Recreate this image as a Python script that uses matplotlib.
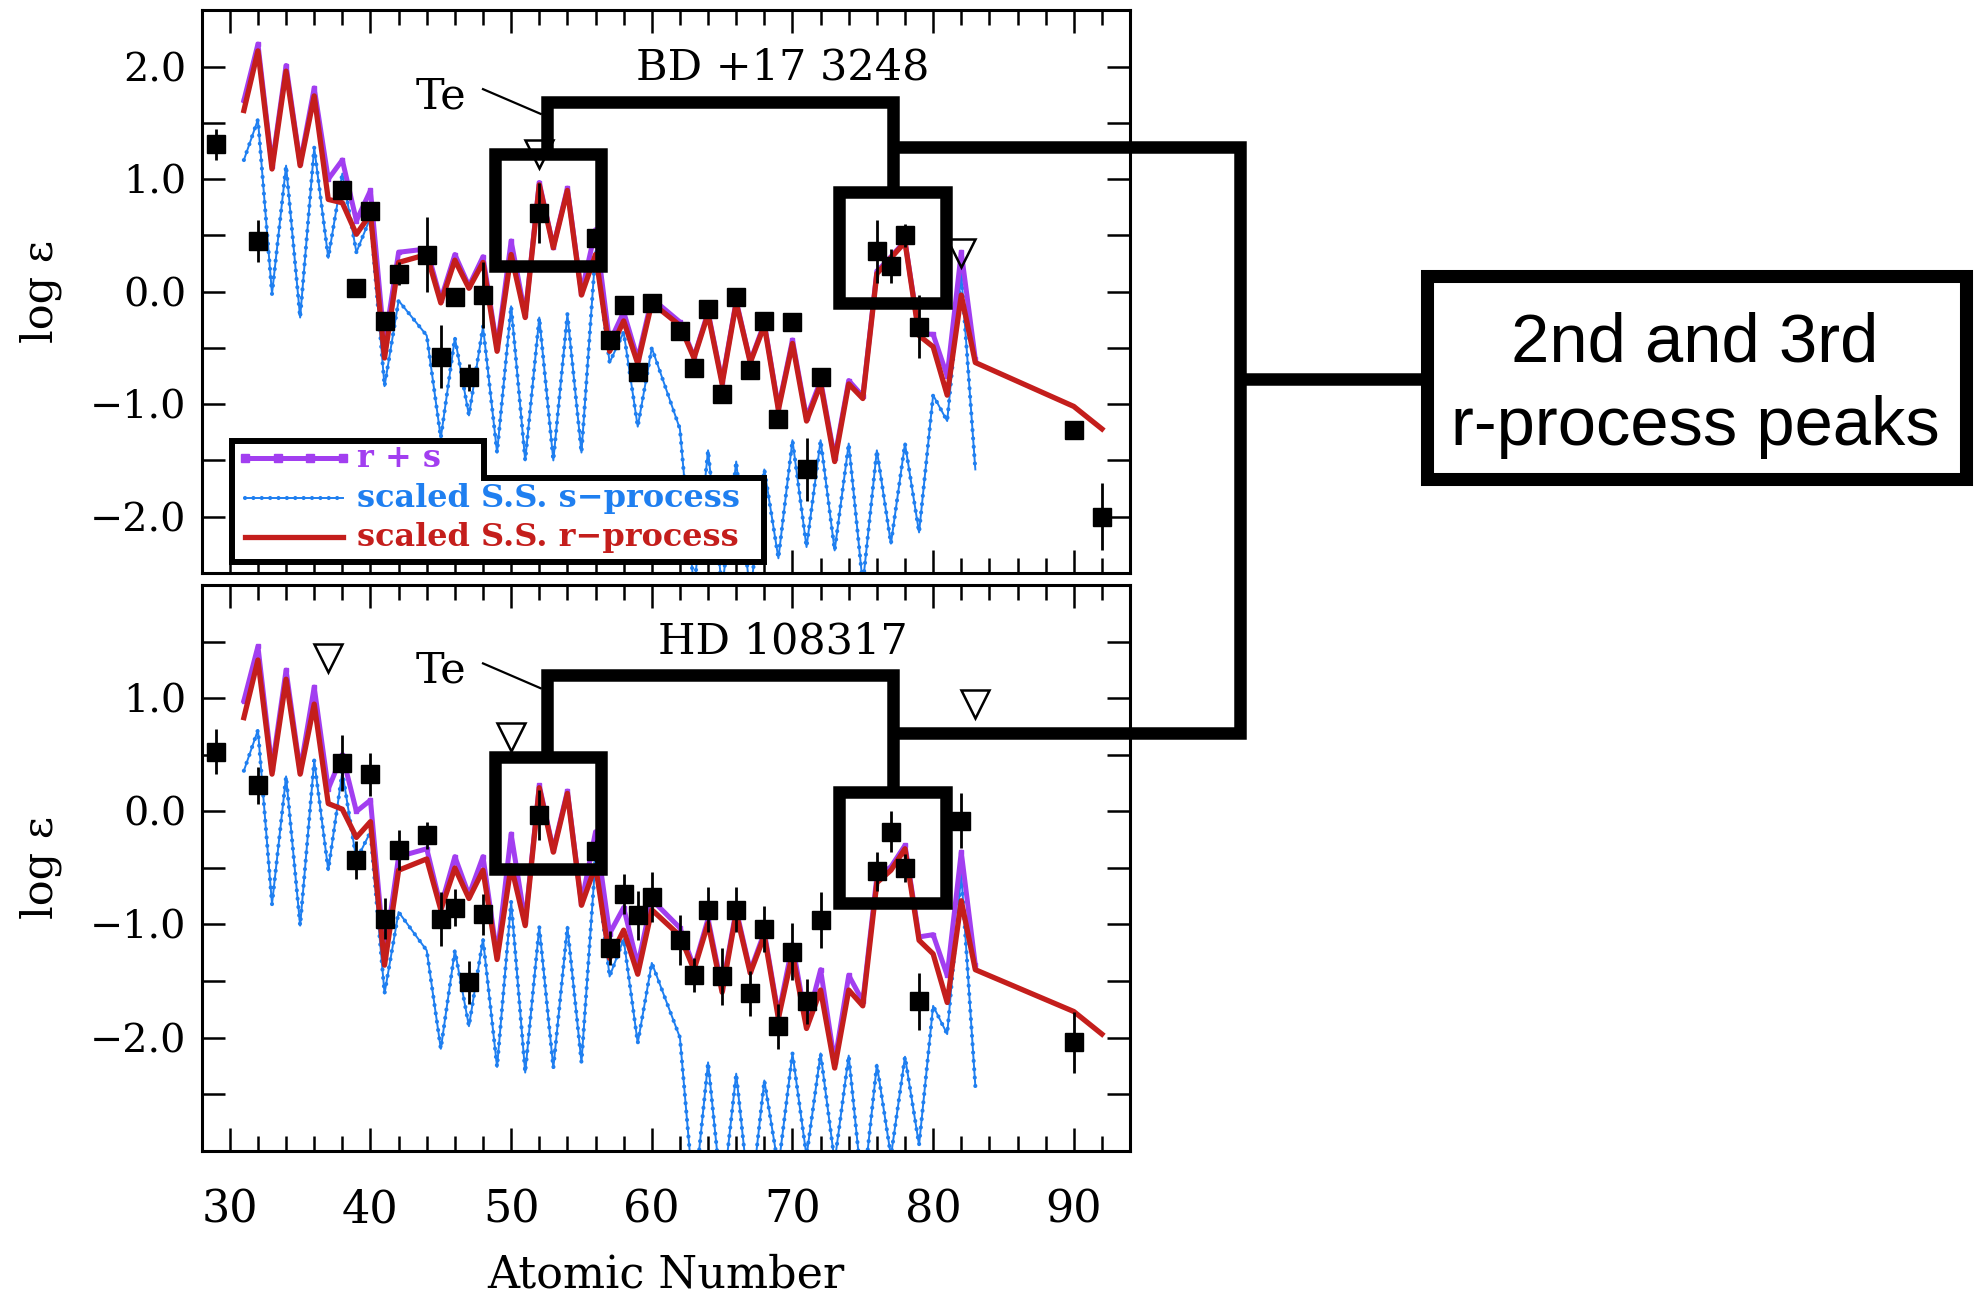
import matplotlib
matplotlib.use('Agg')
import matplotlib.pyplot as plt
from matplotlib.ticker import FixedLocator, MultipleLocator, FuncFormatter
from matplotlib.patches import Polygon, Rectangle

plt.rcParams['font.family'] = 'DejaVu Serif'

# atomic numbers of the model curves (no Tc, no Pm); r-process also has Th and U
z_model = list(range(31, 43)) + list(range(44, 61)) + list(range(62, 84))
z_tail = [90, 92]

# ---- BD +17 3248 ----
r_bd = [1.61, 2.14, 1.09, 1.96, 1.12, 1.74, 0.82, 0.79, 0.51, 0.69, -0.59, 0.26,
        0.33, -0.10, 0.28, 0.03, 0.26, -0.53, 0.33, -0.23, 0.95, 0.39, 0.90, -0.03,
        0.33, -0.53, -0.26, -0.64, -0.10,
        -0.30, -0.59, -0.20, -0.82, -0.10, -0.63, -0.30, -1.05, -0.46, -1.15, -0.82,
        -1.51, -0.82, -0.95, 0.16, 0.30, 0.44, -0.39, -0.49, -0.92, -0.03, -0.63,
        -1.02, -1.22]
s_bd = [1.17, 1.53, -0.02, 1.12, -0.23, 1.28, 0.30, 1.05, 0.35, 0.66, -0.84, -0.08,
        -0.39, -1.30, -0.41, -1.10, -0.31, -1.43, -0.13, -1.50, -0.23, -1.50, -0.20,
        -1.43, 0.36, -0.63, -0.36, -1.20, -0.50,
        -1.22, -2.65, -1.41, -2.65, -1.51, -2.70, -1.58, -2.37, -1.32, -2.27, -1.32,
        -2.30, -1.35, -2.60, -1.41, -2.24, -1.35, -2.14, -0.92, -1.15, 0.16, -1.58]
rs_bd = [1.70, 2.20, 1.12, 2.01, 1.14, 1.81, 1.00, 1.17, 0.63, 0.90, -0.47, 0.35,
         0.38, -0.07, 0.33, 0.05, 0.31, -0.50, 0.45, -0.21, 0.97, 0.40, 0.92, -0.01,
         0.55, -0.45, -0.18, -0.60, -0.06,
         -0.27, -0.58, -0.18, -0.80, -0.08, -0.62, -0.28, -1.03, -0.43, -1.12, -0.79,
         -1.48, -0.79, -0.93, 0.18, 0.31, 0.45, -0.37, -0.38, -0.75, 0.35, -0.60]
obs_z_bd = [29, 32, 38, 39, 40, 41, 42, 44, 45, 46, 47, 48, 52, 56, 57, 58, 59, 60,
            62, 63, 64, 65, 66, 67, 68, 69, 70, 71, 72, 76, 77, 78, 79, 90, 92]
obs_bd = [1.31, 0.45, 0.90, 0.03, 0.72, -0.26, 0.16, 0.33, -0.58, -0.05, -0.76, -0.03,
          0.70, 0.48, -0.43, -0.12, -0.71, -0.10, -0.35, -0.68, -0.15, -0.91, -0.05,
          -0.70, -0.26, -1.13, -0.27, -1.58, -0.76, 0.36, 0.23, 0.50, -0.31, -1.23, -2.00]
err_bd = [0.14, 0.19, 0.06, 0.05, 0.06, 0.06, 0.10, 0.33, 0.28, 0.06, 0.12, 0.29,
          0.27, 0.06, 0.06, 0.06, 0.06, 0.06, 0.06, 0.06, 0.06, 0.06, 0.06, 0.06,
          0.06, 0.06, 0.06, 0.28, 0.08, 0.28, 0.15, 0.10, 0.28, 0.05, 0.30]
lim_z_bd = [52, 82]
lim_bd = [1.22, 0.34]

# ---- HD 108317 ----
r_hd = [0.83, 1.34, 0.33, 1.17, 0.33, 0.95, 0.07, 0.02, -0.23, -0.09, -1.36, -0.52,
        -0.42, -0.87, -0.50, -0.77, -0.52, -1.31, -0.48, -1.01, 0.21, -0.36, 0.16,
        -0.83, -0.48, -1.30, -1.05, -1.44, -0.87,
        -1.10, -1.40, -0.99, -1.60, -0.90, -1.43, -1.10, -1.83, -1.26, -1.92, -1.58,
        -2.27, -1.58, -1.72, -0.63, -0.52, -0.33, -1.14, -1.26, -1.69, -0.79, -1.40,
        -1.77, -1.97]
s_hd = [0.36, 0.72, -0.82, 0.31, -1.01, 0.45, -0.52, 0.35, -0.43, -0.18, -1.61, -0.89,
        -1.23, -2.10, -1.23, -1.90, -1.13, -2.26, -0.80, -2.31, -1.02, -2.27, -1.02,
        -2.22, -0.42, -1.46, -1.13, -2.05, -1.34,
        -2.00, -3.45, -2.22, -3.45, -2.32, -3.50, -2.38, -3.15, -2.14, -3.05, -2.14,
        -3.10, -2.16, -3.40, -2.24, -3.05, -2.17, -2.95, -1.72, -1.97, -0.55, -2.43]
rs_hd = [0.98, 1.46, 0.38, 1.25, 0.36, 1.10, 0.20, 0.50, 0.00, 0.10, -1.28, -0.40,
         -0.33, -0.84, -0.40, -0.74, -0.40, -1.28, -0.20, -0.98, 0.23, -0.34, 0.18,
         -0.81, -0.18, -1.08, -0.85, -1.36, -0.78,
         -1.03, -1.38, -0.95, -1.57, -0.87, -1.41, -1.07, -1.80, -1.18, -1.88, -1.40,
         -2.22, -1.45, -1.68, -0.58, -0.49, -0.30, -1.11, -1.09, -1.45, -0.36, -1.36]
obs_z_hd = [29, 32, 38, 39, 40, 41, 42, 44, 45, 46, 47, 48, 52, 56, 57, 58, 59, 60,
            62, 63, 64, 65, 66, 67, 68, 69, 70, 71, 72, 76, 77, 78, 79, 82, 90]
obs_hd = [0.53, 0.23, 0.43, -0.43, 0.33, -0.95, -0.34, -0.21, -0.95, -0.85, -1.51, -0.91,
          -0.03, -0.35, -1.21, -0.73, -0.92, -0.76, -1.14, -1.45, -0.87, -1.46, -0.87,
          -1.61, -1.04, -1.90, -1.24, -1.68, -0.96, -0.53, -0.18, -0.50, -1.68, -0.08, -2.04]
err_hd = [0.20, 0.16, 0.25, 0.17, 0.19, 0.18, 0.18, 0.12, 0.24, 0.16, 0.19, 0.18,
          0.22, 0.10, 0.15, 0.18, 0.22, 0.22, 0.22, 0.15, 0.20, 0.25, 0.20, 0.20,
          0.20, 0.20, 0.25, 0.20, 0.25, 0.17, 0.18, 0.12, 0.25, 0.24, 0.27]
lim_z_hd = [37, 50, 83]
lim_hd = [1.36, 0.66, 0.95]

RED = '#c41e1c'
PURPLE = '#a23ef0'
BLUE = '#1f7ff0'
BEADS = (0, (0.01, 2.0))


def fmt_y(v, pos):
    return f'{v:.1f}'.replace('-', '\u2212')


def draw_panel(ax, r, s, rs, oz, ov, oe, lz, lv, ylim, majors, minors, star, star_y, te_y):
    ax.set_xlim(28, 94)
    ax.set_ylim(*ylim)

    # s-process: thin line with beads
    ax.plot(z_model, s, color=BLUE, lw=1.4, zorder=1.5)
    ax.plot(z_model, s, color=BLUE, lw=3.0, ls=BEADS, dash_capstyle='round', zorder=1.5)
    ax.plot(z_model, rs, color=PURPLE, lw=3.6, marker='s', ms=3, zorder=2)
    ax.plot(z_model + z_tail, r, color=RED, lw=3.8, zorder=2.5)

    ax.errorbar(oz, ov, yerr=oe, fmt='s', color='k', ms=13, elinewidth=2,
                capsize=0, zorder=3)
    ax.plot(lz, lv, 'v', mfc='none', mec='k', ms=20, mew=1.8, zorder=3)

    ax.text(69.3, star_y, star, fontsize=31, ha='center', va='baseline')
    ax.text(45.0, te_y, 'Te', fontsize=31, ha='center', va='baseline')
    ax.plot([48.0, 52.1], [te_y + 0.17, te_y - 0.05], color='k', lw=1.6)

    ax.xaxis.set_major_locator(MultipleLocator(10))
    ax.xaxis.set_minor_locator(MultipleLocator(2))
    ax.yaxis.set_major_locator(FixedLocator(majors))
    ax.yaxis.set_minor_locator(FixedLocator(minors))
    ax.yaxis.set_major_formatter(FuncFormatter(fmt_y))
    ax.tick_params(which='both', direction='in', top=True, right=True, width=1.8)
    ax.tick_params(which='major', length=16.5)
    ax.tick_params(axis='x', which='minor', length=10.5)
    ax.tick_params(axis='y', which='minor', length=16.5)
    ax.tick_params(axis='y', labelsize=28.5, pad=11)
    ax.tick_params(axis='x', labelsize=32, pad=27)
    for sp in ax.spines.values():
        sp.set_linewidth(2.2)
    ax.set_ylabel('log \u03b5', fontsize=31)
    ax.yaxis.set_label_coords(-0.150, 0.5)


fig = plt.figure(figsize=(19.85, 12.98), dpi=100)
ax_top = fig.add_axes([0.1016, 0.5586, 0.4677, 0.4334])
ax_bot = fig.add_axes([0.1016, 0.1136, 0.4677, 0.4354])

draw_panel(ax_top, r_bd, s_bd, rs_bd, obs_z_bd, obs_bd, err_bd, lim_z_bd, lim_bd,
           (-2.5, 2.5), [-2, -1, 0, 1, 2], [-1.5, -0.5, 0.5, 1.5],
           'BD +17 3248', 1.89, 1.63)
draw_panel(ax_bot, r_hd, s_hd, rs_hd, obs_z_hd, obs_hd, err_hd, lim_z_hd, lim_hd,
           (-3.0, 2.0), [-2, -1, 0, 1], [-2.5, -1.5, -0.5, 0.5, 1.5],
           'HD 108317', 1.40, 1.14)
ax_top.tick_params(axis='x', labelbottom=False)
ax_bot.set_xlabel('Atomic Number', fontsize=32)
ax_bot.xaxis.set_label_coords(0.5, -0.182)

# legend with stepped white frame
leg_frame = Polygon([(0.0326, 0.2337), (0.3041, 0.2337), (0.3041, 0.168),
                     (0.6057, 0.168), (0.6057, 0.0196), (0.0326, 0.0196)],
                    closed=True, transform=ax_top.transAxes, facecolor='white',
                    edgecolor='k', lw=4.3, joinstyle='miter', zorder=5)
ax_top.add_patch(leg_frame)
x0, x1, xt = 0.0466, 0.152, 0.167
rows = [0.204, 0.133, 0.063]
ax_top.plot([x0, 0.082, 0.117, x1], [rows[0]] * 4, color=PURPLE, lw=3.6, marker='s',
            ms=6, transform=ax_top.transAxes, zorder=6)
ax_top.plot([x0, x1], [rows[1]] * 2, color=BLUE, lw=1.4, transform=ax_top.transAxes, zorder=6)
ax_top.plot([x0, x1], [rows[1]] * 2, color=BLUE, lw=3.0, ls=BEADS,
            dash_capstyle='round', transform=ax_top.transAxes, zorder=6)
ax_top.plot([x0, x1], [rows[2]] * 2, color=RED, lw=3.8, transform=ax_top.transAxes, zorder=6)
for y, label, c in zip(rows, ['r + s', 'scaled S.S. s\u2212process', 'scaled S.S. r\u2212process'],
                       [PURPLE, BLUE, RED]):
    ax_top.text(xt, y, label, color=c, fontsize=23, fontweight='bold', va='center',
                transform=ax_top.transAxes, zorder=6)

# bracket annotations in pixel space
ov = fig.add_axes([0, 0, 1, 1], zorder=10)
ov.set_xlim(0, 1985)
ov.set_ylim(1298, 0)
ov.axis('off')
ov.patch.set_alpha(0)

LW = 9


def frame(x0, y0, x1, y1, lw=LW):
    ov.add_patch(Rectangle((x0, y0), x1 - x0, y1 - y0, fill=False, edgecolor='k',
                           lw=lw, joinstyle='miter'))


def path(xs, ys):
    ov.plot(xs, ys, color='k', lw=LW, solid_joinstyle='miter', solid_capstyle='butt')


for top2, bot2, top3, bot3, ybar, ylink in [(154, 265.5, 191.5, 302.5, 101.5, 146.5),
                                            (757, 868.7, 792, 903, 675, 733)]:
    frame(495, top2, 601, bot2)
    frame(839, top3, 946, bot3)
    path([546.5, 546.5, 892.5, 892.5], [top2, ybar, ybar, top3])

path([892.5, 1240, 1240, 892.5], [146.5, 146.5, 733, 733])
path([1240, 1429.5], [379, 379])
frame(1427, 276, 1965.5, 479, lw=9.4)
ov.text(1695, 362, '2nd and 3rd', fontsize=49.5, family='Liberation Sans',
        ha='center', va='baseline')
ov.text(1695, 445, 'r-process peaks', fontsize=49.5, family='Liberation Sans',
        ha='center', va='baseline')

fig.savefig('out.png', dpi=100)
